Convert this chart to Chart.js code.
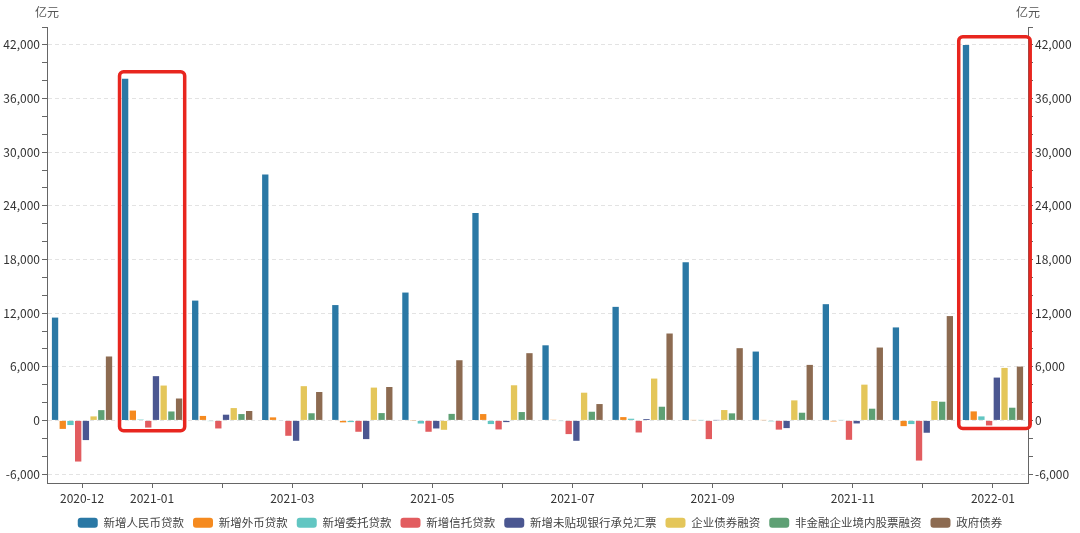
<!DOCTYPE html>
<html>
<head>
<meta charset="utf-8">
<script src="https://cdn.jsdelivr.net/npm/chart.js@4.4.1/dist/chart.umd.min.js"></script>
<style>
  html, body { margin: 0; padding: 0; background: #fff; }
  #wrap { width: 1080px; height: 533px; }
</style>
</head>
<body>
<div id="wrap"><canvas id="tsf" width="1080" height="533"></canvas></div>
<script>
// 社融分项，单位：亿元
var months = ['2020-12','2021-01','2021-02','2021-03','2021-04','2021-05','2021-06',
              '2021-07','2021-08','2021-09','2021-10','2021-11','2021-12','2022-01'];

var rmbLoans       = [11500, 38200, 13400, 27500, 12900, 14300, 23200, 8400, 12700, 17700, 7700, 13000, 10400, 42000];
var fxLoans        = [-950, 1100, 500, 340, -220, -30, 710, 75, 370, 30, 30, -110, -640, 1010];
var entrustedLoans = [-520, 100, -80, -50, -190, -350, -410, -75, 190, 20, -100, 30, -410, 450];
var trustLoans     = [-4600, -800, -900, -1720, -1270, -1270, -1010, -1530, -1350, -2090, -1030, -2170, -4490, -560];
var bankAccept     = [-2200, 4950, 640, -2280, -2090, -900, -190, -2280, 150, 20, -860, -340, -1380, 4790];
var corpBonds      = [450, 3900, 1380, 3830, 3670, -1050, 3930, 3100, 4680, 1160, 2240, 4000, 2170, 5870];
var equityFin      = [1150, 1000, 710, 800, 820, 730, 935, 970, 1530, 790, 860, 1310, 2090, 1420];
var govBonds       = [7150, 2450, 1050, 3180, 3740, 6730, 7520, 1830, 9720, 8080, 6210, 8150, 11670, 6020];

var seriesNames = ['新增人民币贷款','新增外币贷款','新增委托贷款','新增信托贷款',
                   '新增未贴现银行承兑汇票','企业债券融资','非金融企业境内股票融资','政府债券'];
var seriesData = [rmbLoans, fxLoans, entrustedLoans, trustLoans, bankAccept, corpBonds, equityFin, govBonds];
var colors = ['#2a78a5','#f58a1f','#62c6c2','#e25c5f','#4b5791','#e4c65a','#5ea074','#8d6b51'];

// y axis range & steps (minor tick every 2000, label every 6000)
var yMin = -7000, yMax = 44000, yFirstTick = -6000, yStep = 2000, yLabelStep = 6000;
var unitText = '亿元';

// highlighted months (red frames): category index, top / bottom value
var frameIndex  = [1, 13];
var frameTop    = [39000, 42900];
var frameBottom = [-1150, -900];

var fontFamily = "'Noto Sans CJK SC', 'Noto Sans', sans-serif";
Chart.defaults.font.family = fontFamily;
Chart.defaults.font.size = 12;
Chart.defaults.color = '#444';

var datasets = seriesData.map(function (d, i) {
  return {
    label: seriesNames[i],
    data: d,
    backgroundColor: colors[i],
    categoryPercentage: 0.88,
    barPercentage: 0.82
  };
});

function yTicks(scale) {
  var t = [];
  for (var v = yFirstTick; v <= yMax; v += yStep) t.push({ value: v });
  scale.ticks = t;
}

function yLabel(v) {
  return v % yLabelStep === 0 ? v.toLocaleString('en-US') : '';
}

function yGridColor(ctx) {
  var v = ctx.tick ? ctx.tick.value : null;
  if (v === null) return 'rgba(0,0,0,0)';
  return v % yLabelStep === 0 ? '#e3e3e3' : 'rgba(0,0,0,0)';
}

var extras = {
  id: 'extras',
  afterInit: function (chart) {
    // legend a bit lower than Chart.js would put it
    var lg = chart.legend;
    if (lg) {
      var fit = lg.fit;
      lg.fit = function () { fit.call(this); this.height = 25; };
    }
  },
  afterDatasetsDraw: function (chart) {
    var c = chart.ctx, x = chart.scales.x, y = chart.scales.y;
    var catW = (x.right - x.left) / months.length;
    c.save();
    c.strokeStyle = '#e8261f';
    c.lineWidth = 3.5;
    for (var i = 0; i < frameIndex.length; i++) {
      var cx = x.getPixelForValue(frameIndex[i]);
      var half = catW * (i === 0 ? 0.465 : 0.51);
      var top = y.getPixelForValue(frameTop[i]);
      var bot = y.getPixelForValue(frameBottom[i]);
      c.beginPath();
      c.roundRect(cx - half + (i === 0 ? 0 : 1.5), top, half * 2, bot - top, 4);
      c.stroke();
    }
    c.restore();
  },
  afterDraw: function (chart) {
    var c = chart.ctx;
    c.save();
    c.font = '12px ' + fontFamily;
    c.fillStyle = '#555';
    c.textAlign = 'center';
    c.textBaseline = 'middle';
    c.fillText(unitText, chart.scales.y.right, 12);
    c.fillText(unitText, chart.scales.y2.left, 12);
    c.restore();
  }
};

var ctx = document.getElementById('tsf').getContext('2d');
var chart = new Chart(ctx, {
  type: 'bar',
  data: { labels: months, datasets: datasets },
  plugins: [extras],
  options: {
    responsive: false,
    animation: false,
    layout: { padding: { top: 27, left: 0, right: 0, bottom: 0 } },
    plugins: {
      tooltip: { enabled: false },
      legend: {
        position: 'bottom',
        labels: {
          boxWidth: 20,
          boxHeight: 10,
          useBorderRadius: true,
          borderRadius: 3,
          padding: 9,
          color: '#444',
          font: { size: 11.5 }
        }
      }
    },
    scales: {
      x: {
        offset: true,
        grid: { offset: false, drawOnChartArea: false, tickLength: 5, tickColor: '#666' },
        border: { color: '#666' },
        ticks: {
          autoSkip: false,
          maxRotation: 0,
          padding: 3,
          color: '#333',
          font: { size: 12 },
          callback: function (v, i) {
            return (i === 0 || i % 2 === 1) ? this.getLabelForValue(v) : '';
          }
        },
        afterFit: function (s) { s.height = 25; }
      },
      y: {
        position: 'left',
        min: yMin, max: yMax,
        afterFit: function (s) { s.width = 47; },
        afterBuildTicks: yTicks,
        ticks: { callback: yLabel, padding: 2, color: '#333', font: { size: 12 } },
        grid: { color: yGridColor, tickLength: 5, tickColor: '#666' },
        border: { color: '#666', dash: [4, 3] }
      },
      y2: {
        position: 'right',
        min: yMin, max: yMax,
        afterFit: function (s) { s.width = 52; },
        afterBuildTicks: yTicks,
        ticks: { callback: yLabel, padding: 2, color: '#333', font: { size: 12 } },
        grid: { drawOnChartArea: false, tickLength: 5, tickColor: '#666' },
        border: { color: '#666' }
      }
    }
  }
});
</script>
</body>
</html>
